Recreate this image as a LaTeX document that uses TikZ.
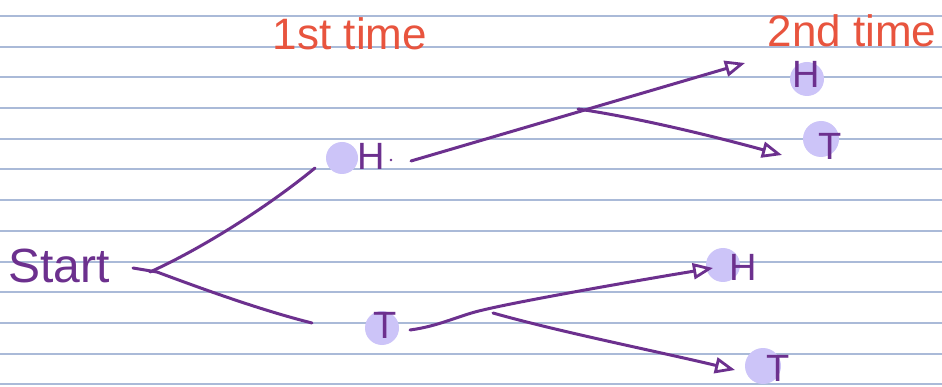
\documentclass[tikz,border=0pt]{standalone}
\usepackage{fontspec}
\setmainfont{Liberation Sans}
\usetikzlibrary{arrows.meta}
\definecolor{ink}{RGB}{108,48,142}
\definecolor{dotc}{RGB}{204,196,248}
\definecolor{redink}{RGB}{232,84,62}
\definecolor{rulec}{RGB}{170,186,216}
\begin{document}
\begin{tikzpicture}[x=1pt,y=-1pt,
  pen/.style={draw=ink,line width=3pt,line cap=round,line join=round},
  tip/.style={-{Triangle[open,length=20pt,width=16pt,line width=2.8pt]}},
  lbl/.style={text=ink,font=\fontsize{38}{38}\selectfont,inner sep=0pt,anchor=base},
  hd/.style={text=redink,font=\fontsize{44}{44}\selectfont,inner sep=0pt,anchor=base},
  blob/.style={circle,fill=dotc,inner sep=0pt,minimum size=#1}]
\useasboundingbox (0,0) rectangle (942,387);
\fill[white] (0,0) rectangle (942,387);
\foreach \k in {0,...,12} \draw[rulec,line width=2pt] (0,{16+30.7*\k}) -- (942,{16+30.7*\k});

% highlighter dots
\node[blob=32pt] (d1) at (342,158) {};
\node[blob=34pt] (d2) at (807,79) {};
\node[blob=36pt] (d3) at (821,139) {};
\node[blob=34pt] (d4) at (382,328) {};
\node[blob=34pt] (d5) at (723,265) {};
\node[blob=36pt] (d6) at (763,366) {};

% headings
\node[hd] (first) at (350,50) {1st time};
\node[hd] (second) at (852,47) {2nd time};

% labels
\node[lbl,font=\fontsize{48}{48}\selectfont] (start) at (59,283) {Start};
\node[lbl] (h1) at (371,170) {H};
\fill[ink] (391,160) circle (1.3pt);
\node[lbl] (t1) at (385,338) {T};
\node[lbl] (h2) at (806,88) {H};
\node[lbl] (t2) at (830,160) {T};
\node[lbl] (h3) at (743,280) {H};
\node[lbl] (t3) at (778,381) {T};

% connector coordinates
\coordinate (s0) at (133,268);
\coordinate (sA) at (150,272);
\coordinate (sB) at (315,168);
\coordinate (tA) at (312,323);
\coordinate (hA) at (411,161);
\coordinate (hB) at (745,63);
\coordinate (hC) at (578,109);
\coordinate (hD) at (782,155);
\coordinate (tB) at (410,330);
\coordinate (tC) at (713,268);
\coordinate (tD) at (493,313);
\coordinate (tE) at (735,370);

% connectors
\draw[pen] (sA) .. controls (205,247) and (270,205) .. (sB);
\draw[pen] (s0) -- (157,272) .. controls (200,288) and (260,310) .. (tA);
\draw[pen,tip] (hA) -- (hB);
\draw[pen,tip] (hC) .. controls (640,118) and (720,138) .. (hD);
\draw[pen,tip] (tB) .. controls (440,326) and (460,315) .. (483,310) .. controls (520,301) and (640,280) .. (tC);
\draw[pen,tip] (tD) .. controls (560,332) and (660,352) .. (tE);
\end{tikzpicture}
\end{document}
